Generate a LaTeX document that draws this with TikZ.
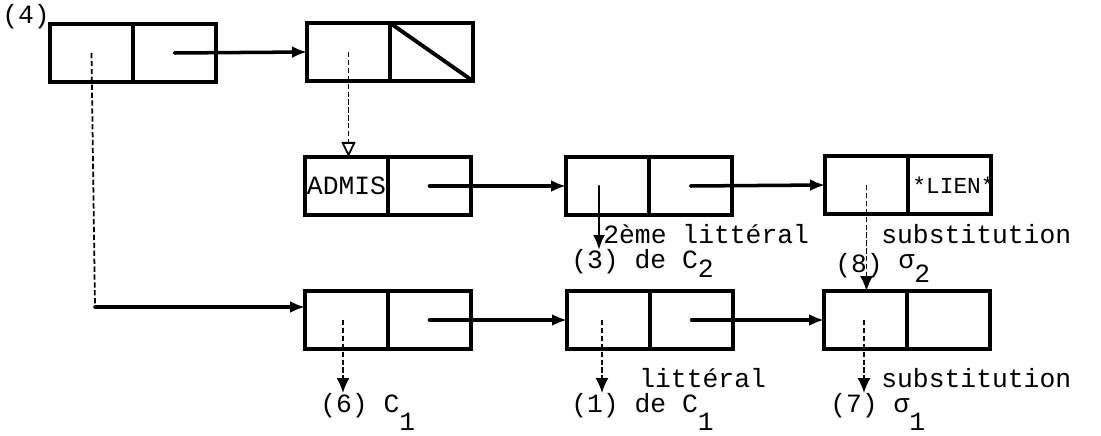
\documentclass[tikz,border=0pt]{standalone}
\usepackage{fontspec}
\setmonofont{Liberation Mono}
\usetikzlibrary{arrows.meta,positioning,calc}

\newcommand{\lowr}[2][0.7em]{\raisebox{-#1}{#2}}

\begin{document}
\begin{tikzpicture}[>=Latex,
    every node/.style={font=\ttfamily\fontsize{15}{17}\selectfont},
    cell/.style={draw, line width=2.2pt, minimum width=1.66cm, minimum height=1.16cm,
      inner sep=0pt, outer sep=0pt},
    ptr/.style={line width=2pt, line cap=round, -{Latex[length=3mm,width=2.4mm]}},
    dptr/.style={line width=1pt, dash pattern=on 3pt off 1.5pt, -{Latex[length=3mm,width=2.6mm]}},
    optr/.style={line width=1pt, dash pattern=on 3pt off 1.5pt, -{Triangle[open,length=3mm,width=2.8mm]}},
    lbl/.style={anchor=base west, inner sep=0pt}]

  \useasboundingbox (0,0) rectangle (22.02,-8.72);

  % top row
  \node[cell, anchor=west] (Acar) at (1.0,-1.06) {};
  \node[cell, right=0pt of Acar] (Acdr) {};
  \node[cell, anchor=west] (Bcar) at (6.14,-1.04) {};
  \node[cell, right=0pt of Bcar] (Bcdr) {};
  \draw[line width=2.2pt] (Bcdr.north west) -- (Bcdr.south east);
  \node[lbl] (n4) at (0.04,-0.48) {(4)};

  % middle row
  \node[cell, anchor=west] (Ccar) at (6.1,-3.72) {ADMIS};
  \node[cell, right=0pt of Ccar] (Ccdr) {};
  \node[cell, anchor=west] (Dcar) at (11.32,-3.72) {};
  \node[cell, right=0pt of Dcar] (Dcdr) {};
  \node[cell, anchor=west] (Ecar) at (16.5,-3.7) {};
  \node[cell, right=0pt of Ecar] (Ecdr) {};
  \node[inner sep=0pt, font=\ttfamily\fontsize{13}{15}\selectfont, xshift=0.08cm] (lien) at (Ecdr.center) {*LIEN*};

  % bottom row
  \node[cell, anchor=west] (Fcar) at (6.1,-6.4) {};
  \node[cell, right=0pt of Fcar] (Fcdr) {};
  \node[cell, anchor=west] (Gcar) at (11.34,-6.4) {};
  \node[cell, right=0pt of Gcar] (Gcdr) {};
  \node[cell, anchor=west] (Hcar) at (16.48,-6.4) {};
  \node[cell, right=0pt of Hcar] (Hcdr) {};

  % labels
  \node[lbl] (l2eme) at (12.06,-4.86) {2ème littéral};
  \node[lbl] (l3) at (11.42,-5.36) {(3) de C\lowr[0.35em]{2}};
  \node[lbl] (lsub2) at (17.62,-4.86) {substitution};
  \node[lbl] (l8) at (16.7,-5.44) {(8) \raisebox{0.15em}{σ}\lowr[0.4em]{2}};
  \node[lbl] (llit1) at (12.78,-7.74) {littéral};
  \node[lbl] (l1) at (11.42,-8.24) {(1) de C\lowr{1}};
  \node[lbl] (lsub1) at (17.62,-7.74) {substitution};
  \node[lbl] (l7) at (16.6,-8.24) {(7) σ\lowr{1}};
  \node[lbl] (l6) at (6.4,-8.24) {(6) C\lowr{1}};

  \coordinate (bend) at (1.9,-6.14);
  \coordinate (tip3) at (11.98,-5.0);
  \coordinate (tip6) at (6.86,-7.86);
  \coordinate (tip1) at (12.04,-7.86);
  \coordinate (tip7) at (17.28,-7.86);

  % pointers
  \draw[ptr] (Acdr.center) -- (Bcar.west);
  \draw[optr] (Bcar.center) -- (Bcar.center |- Ccar.north);
  \draw[dptr, -] (Acar.center) -- (bend);
  \draw[ptr] (bend) -- (Fcar.west |- bend);
  \draw[ptr] (Ccdr.center) -- (Dcar.west);
  \draw[ptr] (Dcdr.center) -- (Ecar.west);
  \draw[ptr, line width=1.5pt] (Dcar.center -| tip3) -- (tip3);
  \draw[dptr] (Ecar.center) -- (Ecar.center |- Hcar.north);
  \draw[ptr] (Fcdr.center) -- (Gcar.west);
  \draw[ptr] (Gcdr.center) -- (Hcar.west);
  \draw[dptr] (Fcar.center -| tip6) -- (tip6);
  \draw[dptr] (Gcar.center -| tip1) -- (tip1);
  \draw[dptr] (Hcar.center -| tip7) -- (tip7);
\end{tikzpicture}
\end{document}
